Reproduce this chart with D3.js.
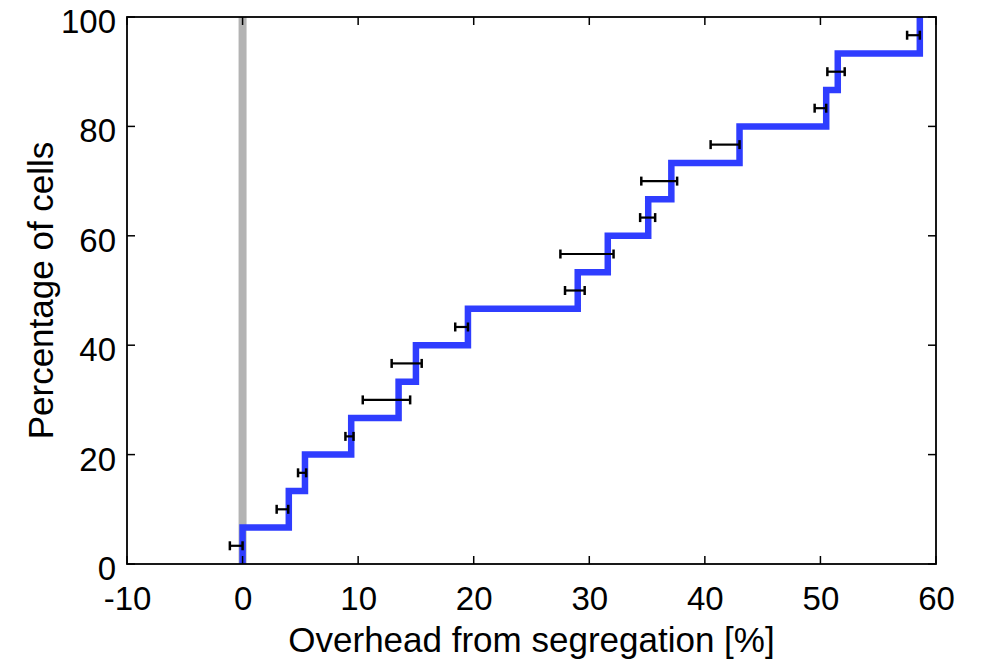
<!DOCTYPE html>
<html>
<head>
<meta charset="utf-8">
<script src="https://cdn.jsdelivr.net/npm/d3@7"></script>
<style>
  html, body { margin: 0; padding: 0; background: #fff; }
  svg { display: block; }
  text { font-family: "Liberation Sans", Arial, Helvetica, sans-serif; fill: #000; }
</style>
</head>
<body>
<svg id="chart" width="981" height="660"></svg>
<script>
// ---- data ----
const stepX = [0.0, 4.0, 5.4, 9.4, 13.5, 15.0, 19.5, 29.0, 31.6, 35.1, 37.1, 43.0, 50.5, 51.5, 58.6];
const stepY = [6.67, 13.33, 20.0, 26.67, 33.33, 40.0, 46.67, 53.33, 60.0, 66.67, 73.33, 80.0, 86.67, 93.33, 100.0];
const errY  = [3.33, 10.0, 16.67, 23.33, 30.0, 36.67, 43.33, 50.0, 56.67, 63.33, 70.0, 76.67, 83.33, 90.0, 96.67];
const errLo = [-1.1, 2.95, 4.8, 8.9, 10.4, 12.9, 18.4, 27.9, 27.5, 34.4, 34.5, 40.5, 49.5, 50.6, 57.5];
const errHi = [0.0, 3.95, 5.5, 9.6, 14.5, 15.5, 19.5, 29.6, 32.1, 35.7, 37.6, 43.0, 50.5, 52.1, 58.6];
const xTicks = [-10, 0, 10, 20, 30, 40, 50, 60];
const yTicks = [0, 20, 40, 60, 80, 100];
const xTickLabels = ["-10", "0", "10", "20", "30", "40", "50", "60"];
const yTickLabels = ["0", "20", "40", "60", "80", "100"];
const refX = 0;
const xLabel = "Overhead from segregation [%]";
const yLabel = "Percentage of cells";

// ---- layout ----
const L = 127, R = 936, T = 17, B = 564;
const svg = d3.select("#chart");
const x = d3.scaleLinear().domain([-10, 60]).range([L, R]);
const y = d3.scaleLinear().domain([0, 100]).range([B, T]);

// reference line at 0
svg.append("line")
  .attr("x1", x(refX)).attr("x2", x(refX))
  .attr("y1", y(0)).attr("y2", y(100))
  .attr("stroke", "#b3b3b3").attr("stroke-width", 8);

// step CDF
const pts = [[stepX[0], 0]];
stepX.forEach((sx, i) => {
  pts.push([sx, stepY[i]]);
  if (i + 1 < stepX.length) pts.push([stepX[i + 1], stepY[i]]);
});
const line = d3.line().x(d => x(d[0])).y(d => y(d[1]));
svg.append("path")
  .attr("d", line(pts))
  .attr("fill", "none")
  .attr("stroke", "#2f3dff")
  .attr("stroke-width", 6.5)
  .attr("stroke-linejoin", "miter")
  .attr("stroke-linecap", "butt");

// error bars
const eg = svg.append("g").attr("stroke", "#000").attr("stroke-width", 2.2);
errY.forEach((ey, i) => {
  const yy = y(ey);
  eg.append("line").attr("x1", x(errLo[i])).attr("x2", x(errHi[i])).attr("y1", yy).attr("y2", yy);
  [errLo[i], errHi[i]].forEach(v => {
    eg.append("line").attr("x1", x(v)).attr("x2", x(v)).attr("y1", yy - 4.5).attr("y2", yy + 4.5)
      .attr("stroke-width", 2.5);
  });
});

// axes (box with inward ticks)
const ax = svg.append("g");
const tickLen = 8;
const bottomAxis = d3.axisBottom(x).tickValues(xTicks).tickSize(0)
  .tickFormat((d, i) => xTickLabels[i]);
const leftAxis = d3.axisLeft(y).tickValues(yTicks).tickSize(0)
  .tickFormat((d, i) => yTickLabels[i]);

const gb = ax.append("g").attr("transform", `translate(0,${B})`).call(bottomAxis);
gb.select(".domain").remove();
gb.selectAll("text").attr("font-size", 33).attr("dy", null).attr("y", 46)
  .attr("font-family", "Liberation Sans, Arial, sans-serif");

const gl = ax.append("g").attr("transform", `translate(${L},0)`).call(leftAxis);
gl.select(".domain").remove();
gl.selectAll("text").attr("font-size", 33).attr("x", -11).attr("dy", "0.62em")
  .attr("y", -5)
  .attr("font-family", "Liberation Sans, Arial, sans-serif");

// inward ticks on all four sides
xTicks.forEach(v => {
  ax.append("line").attr("x1", x(v)).attr("x2", x(v)).attr("y1", B).attr("y2", B - tickLen).attr("stroke", "#000").attr("stroke-width", 1.5);
  ax.append("line").attr("x1", x(v)).attr("x2", x(v)).attr("y1", T).attr("y2", T + tickLen).attr("stroke", "#000").attr("stroke-width", 1.5);
});
yTicks.forEach(v => {
  ax.append("line").attr("x1", L).attr("x2", L + tickLen).attr("y1", y(v)).attr("y2", y(v)).attr("stroke", "#000").attr("stroke-width", 1.5);
  ax.append("line").attr("x1", R).attr("x2", R - tickLen).attr("y1", y(v)).attr("y2", y(v)).attr("stroke", "#000").attr("stroke-width", 1.5);
});

// frame
ax.append("rect").attr("x", L).attr("y", T).attr("width", R - L).attr("height", B - T)
  .attr("fill", "none").attr("stroke", "#000").attr("stroke-width", 1.8);

// axis labels
svg.append("text").attr("x", (L + R) / 2).attr("y", 652)
  .attr("text-anchor", "middle").attr("font-size", 35).text(xLabel);
svg.append("text").attr("transform", `translate(53,${(T + B) / 2}) rotate(-90)`)
  .attr("text-anchor", "middle").attr("font-size", 35).text(yLabel);
</script>
</body>
</html>
